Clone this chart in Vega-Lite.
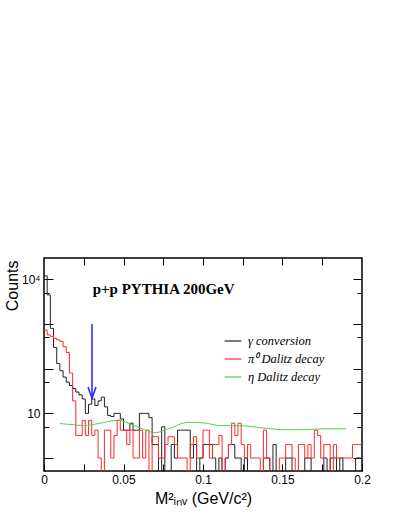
{
 "$schema": "https://vega.github.io/schema/vega-lite/v6.json",
 "width": 318, "height": 213,
 "autosize": {"type": "none"},
 "padding": {"left": 44, "top": 258, "right": 37, "bottom": 45},
 "background": "white",
 "config": {
  "view": {"stroke": "#000", "strokeWidth": 1.5},
  "font": "Liberation Sans",
  "axis": {"grid": false, "domain": false, "tickColor": "#000", "labelColor": "#000", "titleColor": "#000", "labelFont": "Liberation Sans", "titleFont": "Liberation Sans", "titleFontWeight": "normal"}
 },
 "datasets": {
  "hist": [
   {"m":0,"n":12000,"s":"γ conversion"},{"m":0.002,"n":4500,"s":"γ conversion"},{"m":0.004,"n":800,"s":"γ conversion"},{"m":0.006,"n":300,"s":"γ conversion"},{"m":0.008,"n":130,"s":"γ conversion"},{"m":0.01,"n":90,"s":"γ conversion"},{"m":0.012,"n":65,"s":"γ conversion"},{"m":0.014,"n":50,"s":"γ conversion"},{"m":0.016,"n":42,"s":"γ conversion"},{"m":0.018,"n":36,"s":"γ conversion"},
   {"m":0.02,"n":30,"s":"γ conversion"},{"m":0.022,"n":26,"s":"γ conversion"},{"m":0.024,"n":21,"s":"γ conversion"},{"m":0.026,"n":10,"s":"γ conversion"},{"m":0.028,"n":16,"s":"γ conversion"},{"m":0.03,"n":21,"s":"γ conversion"},{"m":0.032,"n":15,"s":"γ conversion"},{"m":0.034,"n":19,"s":"γ conversion"},{"m":0.036,"n":23,"s":"γ conversion"},{"m":0.038,"n":14,"s":"γ conversion"},
   {"m":0.04,"n":9,"s":"γ conversion"},{"m":0.042,"n":8.5,"s":"γ conversion"},{"m":0.044,"n":10,"s":"γ conversion"},{"m":0.046,"n":10,"s":"γ conversion"},{"m":0.048,"n":7.5,"s":"γ conversion"},{"m":0.05,"n":4.2,"s":"γ conversion"},{"m":0.052,"n":4.2,"s":"γ conversion"},{"m":0.054,"n":6,"s":"γ conversion"},{"m":0.056,"n":4.2,"s":"γ conversion"},{"m":0.058,"n":4.2,"s":"γ conversion"},
   {"m":0.06,"n":10,"s":"γ conversion"},{"m":0.062,"n":10,"s":"γ conversion"},{"m":0.064,"n":10,"s":"γ conversion"},{"m":0.066,"n":8,"s":"γ conversion"},{"m":0.068,"n":2,"s":"γ conversion"},{"m":0.07,"n":2,"s":"γ conversion"},{"m":0.072,"n":0.5,"s":"γ conversion"},{"m":0.074,"n":5,"s":"γ conversion"},{"m":0.076,"n":0.5,"s":"γ conversion"},{"m":0.078,"n":0.5,"s":"γ conversion"},
   {"m":0.08,"n":2,"s":"γ conversion"},{"m":0.082,"n":1,"s":"γ conversion"},{"m":0.084,"n":4.2,"s":"γ conversion"},{"m":0.086,"n":4.2,"s":"γ conversion"},{"m":0.088,"n":4.2,"s":"γ conversion"},{"m":0.09,"n":4.2,"s":"γ conversion"},{"m":0.092,"n":1,"s":"γ conversion"},{"m":0.094,"n":2,"s":"γ conversion"},{"m":0.096,"n":0.5,"s":"γ conversion"},{"m":0.098,"n":1,"s":"γ conversion"},
   {"m":0.1,"n":2,"s":"γ conversion"},{"m":0.102,"n":2,"s":"γ conversion"},{"m":0.104,"n":2,"s":"γ conversion"},{"m":0.106,"n":1,"s":"γ conversion"},{"m":0.108,"n":0.5,"s":"γ conversion"},{"m":0.11,"n":1,"s":"γ conversion"},{"m":0.112,"n":0.5,"s":"γ conversion"},{"m":0.114,"n":1,"s":"γ conversion"},{"m":0.116,"n":2,"s":"γ conversion"},{"m":0.118,"n":2,"s":"γ conversion"},
   {"m":0.12,"n":1,"s":"γ conversion"},{"m":0.122,"n":1,"s":"γ conversion"},{"m":0.124,"n":0.5,"s":"γ conversion"},{"m":0.126,"n":1,"s":"γ conversion"},{"m":0.128,"n":0.5,"s":"γ conversion"},{"m":0.13,"n":0.5,"s":"γ conversion"},{"m":0.132,"n":0.5,"s":"γ conversion"},{"m":0.134,"n":0.5,"s":"γ conversion"},{"m":0.136,"n":0.5,"s":"γ conversion"},{"m":0.138,"n":1,"s":"γ conversion"},
   {"m":0.14,"n":1,"s":"γ conversion"},{"m":0.142,"n":0.5,"s":"γ conversion"},{"m":0.144,"n":2,"s":"γ conversion"},{"m":0.146,"n":0.5,"s":"γ conversion"},{"m":0.148,"n":0.5,"s":"γ conversion"},{"m":0.15,"n":0.5,"s":"γ conversion"},{"m":0.152,"n":1,"s":"γ conversion"},{"m":0.154,"n":1,"s":"γ conversion"},{"m":0.156,"n":0.5,"s":"γ conversion"},{"m":0.158,"n":0.5,"s":"γ conversion"},
   {"m":0.16,"n":0.5,"s":"γ conversion"},{"m":0.162,"n":0.5,"s":"γ conversion"},{"m":0.164,"n":1,"s":"γ conversion"},{"m":0.166,"n":1,"s":"γ conversion"},{"m":0.168,"n":0.5,"s":"γ conversion"},{"m":0.17,"n":0.5,"s":"γ conversion"},{"m":0.172,"n":0.5,"s":"γ conversion"},{"m":0.174,"n":0.5,"s":"γ conversion"},{"m":0.176,"n":1,"s":"γ conversion"},{"m":0.178,"n":0.5,"s":"γ conversion"},
   {"m":0.18,"n":1,"s":"γ conversion"},{"m":0.182,"n":1,"s":"γ conversion"},{"m":0.184,"n":0.5,"s":"γ conversion"},{"m":0.186,"n":1,"s":"γ conversion"},{"m":0.188,"n":0.5,"s":"γ conversion"},{"m":0.19,"n":0.5,"s":"γ conversion"},{"m":0.192,"n":0.5,"s":"γ conversion"},{"m":0.194,"n":0.5,"s":"γ conversion"},{"m":0.196,"n":1,"s":"γ conversion"},{"m":0.198,"n":1,"s":"γ conversion"},{"m":0.2,"n":1,"s":"γ conversion"},
   {"m":0,"n":730,"s":"π⁰ Dalitz decay"},{"m":0.002,"n":570,"s":"π⁰ Dalitz decay"},{"m":0.004,"n":530,"s":"π⁰ Dalitz decay"},{"m":0.006,"n":480,"s":"π⁰ Dalitz decay"},{"m":0.008,"n":440,"s":"π⁰ Dalitz decay"},{"m":0.01,"n":410,"s":"π⁰ Dalitz decay"},{"m":0.012,"n":310,"s":"π⁰ Dalitz decay"},{"m":0.014,"n":230,"s":"π⁰ Dalitz decay"},{"m":0.016,"n":80,"s":"π⁰ Dalitz decay"},{"m":0.018,"n":19,"s":"π⁰ Dalitz decay"},
   {"m":0.02,"n":3.2,"s":"π⁰ Dalitz decay"},{"m":0.022,"n":3.2,"s":"π⁰ Dalitz decay"},{"m":0.024,"n":7,"s":"π⁰ Dalitz decay"},{"m":0.026,"n":3.2,"s":"π⁰ Dalitz decay"},{"m":0.028,"n":7,"s":"π⁰ Dalitz decay"},{"m":0.03,"n":3.2,"s":"π⁰ Dalitz decay"},{"m":0.032,"n":4.2,"s":"π⁰ Dalitz decay"},{"m":0.034,"n":1,"s":"π⁰ Dalitz decay"},{"m":0.036,"n":0.5,"s":"π⁰ Dalitz decay"},{"m":0.038,"n":4.2,"s":"π⁰ Dalitz decay"},
   {"m":0.04,"n":4.2,"s":"π⁰ Dalitz decay"},{"m":0.042,"n":1,"s":"π⁰ Dalitz decay"},{"m":0.044,"n":3.2,"s":"π⁰ Dalitz decay"},{"m":0.046,"n":7,"s":"π⁰ Dalitz decay"},{"m":0.048,"n":4.2,"s":"π⁰ Dalitz decay"},{"m":0.05,"n":4.2,"s":"π⁰ Dalitz decay"},{"m":0.052,"n":2,"s":"π⁰ Dalitz decay"},{"m":0.054,"n":4.2,"s":"π⁰ Dalitz decay"},{"m":0.056,"n":1,"s":"π⁰ Dalitz decay"},{"m":0.058,"n":1,"s":"π⁰ Dalitz decay"},
   {"m":0.06,"n":4.2,"s":"π⁰ Dalitz decay"},{"m":0.062,"n":1,"s":"π⁰ Dalitz decay"},{"m":0.064,"n":4.2,"s":"π⁰ Dalitz decay"},{"m":0.066,"n":0.5,"s":"π⁰ Dalitz decay"},{"m":0.068,"n":3,"s":"π⁰ Dalitz decay"},{"m":0.07,"n":3,"s":"π⁰ Dalitz decay"},{"m":0.072,"n":1,"s":"π⁰ Dalitz decay"},{"m":0.074,"n":1,"s":"π⁰ Dalitz decay"},{"m":0.076,"n":2,"s":"π⁰ Dalitz decay"},{"m":0.078,"n":3,"s":"π⁰ Dalitz decay"},
   {"m":0.08,"n":3,"s":"π⁰ Dalitz decay"},{"m":0.082,"n":2,"s":"π⁰ Dalitz decay"},{"m":0.084,"n":1,"s":"π⁰ Dalitz decay"},{"m":0.086,"n":1,"s":"π⁰ Dalitz decay"},{"m":0.088,"n":1,"s":"π⁰ Dalitz decay"},{"m":0.09,"n":0.5,"s":"π⁰ Dalitz decay"},{"m":0.092,"n":2,"s":"π⁰ Dalitz decay"},{"m":0.094,"n":3,"s":"π⁰ Dalitz decay"},{"m":0.096,"n":1,"s":"π⁰ Dalitz decay"},{"m":0.098,"n":1,"s":"π⁰ Dalitz decay"},
   {"m":0.1,"n":4.2,"s":"π⁰ Dalitz decay"},{"m":0.102,"n":4.2,"s":"π⁰ Dalitz decay"},{"m":0.104,"n":1,"s":"π⁰ Dalitz decay"},{"m":0.106,"n":2,"s":"π⁰ Dalitz decay"},{"m":0.108,"n":2,"s":"π⁰ Dalitz decay"},{"m":0.11,"n":3.2,"s":"π⁰ Dalitz decay"},{"m":0.112,"n":0.5,"s":"π⁰ Dalitz decay"},{"m":0.114,"n":1,"s":"π⁰ Dalitz decay"},{"m":0.116,"n":2,"s":"π⁰ Dalitz decay"},{"m":0.118,"n":6,"s":"π⁰ Dalitz decay"},
   {"m":0.12,"n":3.2,"s":"π⁰ Dalitz decay"},{"m":0.122,"n":6,"s":"π⁰ Dalitz decay"},{"m":0.124,"n":2,"s":"π⁰ Dalitz decay"},{"m":0.126,"n":1,"s":"π⁰ Dalitz decay"},{"m":0.128,"n":2,"s":"π⁰ Dalitz decay"},{"m":0.13,"n":1,"s":"π⁰ Dalitz decay"},{"m":0.132,"n":1,"s":"π⁰ Dalitz decay"},{"m":0.134,"n":1,"s":"π⁰ Dalitz decay"},{"m":0.136,"n":0.5,"s":"π⁰ Dalitz decay"},{"m":0.138,"n":4.2,"s":"π⁰ Dalitz decay"},
   {"m":0.14,"n":1,"s":"π⁰ Dalitz decay"},{"m":0.142,"n":0.5,"s":"π⁰ Dalitz decay"},{"m":0.144,"n":0.5,"s":"π⁰ Dalitz decay"},{"m":0.146,"n":0.5,"s":"π⁰ Dalitz decay"},{"m":0.148,"n":1,"s":"π⁰ Dalitz decay"},{"m":0.15,"n":1,"s":"π⁰ Dalitz decay"},{"m":0.152,"n":2,"s":"π⁰ Dalitz decay"},{"m":0.154,"n":2,"s":"π⁰ Dalitz decay"},{"m":0.156,"n":1,"s":"π⁰ Dalitz decay"},{"m":0.158,"n":0.5,"s":"π⁰ Dalitz decay"},
   {"m":0.16,"n":2,"s":"π⁰ Dalitz decay"},{"m":0.162,"n":2,"s":"π⁰ Dalitz decay"},{"m":0.164,"n":1,"s":"π⁰ Dalitz decay"},{"m":0.166,"n":2,"s":"π⁰ Dalitz decay"},{"m":0.168,"n":1,"s":"π⁰ Dalitz decay"},{"m":0.17,"n":4.2,"s":"π⁰ Dalitz decay"},{"m":0.172,"n":3.2,"s":"π⁰ Dalitz decay"},{"m":0.174,"n":1,"s":"π⁰ Dalitz decay"},{"m":0.176,"n":2,"s":"π⁰ Dalitz decay"},{"m":0.178,"n":2,"s":"π⁰ Dalitz decay"},
   {"m":0.18,"n":0.5,"s":"π⁰ Dalitz decay"},{"m":0.182,"n":2,"s":"π⁰ Dalitz decay"},{"m":0.184,"n":1,"s":"π⁰ Dalitz decay"},{"m":0.186,"n":1,"s":"π⁰ Dalitz decay"},{"m":0.188,"n":1,"s":"π⁰ Dalitz decay"},{"m":0.19,"n":1,"s":"π⁰ Dalitz decay"},{"m":0.192,"n":1,"s":"π⁰ Dalitz decay"},{"m":0.194,"n":2,"s":"π⁰ Dalitz decay"},{"m":0.196,"n":2,"s":"π⁰ Dalitz decay"},{"m":0.198,"n":2,"s":"π⁰ Dalitz decay"},{"m":0.2,"n":2,"s":"π⁰ Dalitz decay"}
  ],
  "eta": [
   {"m":0.010,"n":5.9,"s":"η Dalitz decay"},{"m":0.0176,"n":5.6,"s":"η Dalitz decay"},{"m":0.025,"n":5.3,"s":"η Dalitz decay"},{"m":0.035,"n":6.0,"s":"η Dalitz decay"},{"m":0.0465,"n":7.0,"s":"η Dalitz decay"},{"m":0.057,"n":5.3,"s":"η Dalitz decay"},{"m":0.070,"n":3.7,"s":"η Dalitz decay"},{"m":0.079,"n":4.6,"s":"η Dalitz decay"},{"m":0.0906,"n":6.3,"s":"η Dalitz decay"},{"m":0.101,"n":6.1,"s":"η Dalitz decay"},{"m":0.111,"n":5.3,"s":"η Dalitz decay"},{"m":0.123,"n":5.3,"s":"η Dalitz decay"},{"m":0.138,"n":4.7,"s":"η Dalitz decay"},{"m":0.151,"n":4.3,"s":"η Dalitz decay"},{"m":0.161,"n":4.3,"s":"η Dalitz decay"},{"m":0.176,"n":4.5,"s":"η Dalitz decay"},{"m":0.190,"n":4.5,"s":"η Dalitz decay"}
  ],
  "shaft": [{"m":0.0302,"top":1000,"bot":21.7}],
  "head": [{"m":0.0277,"n":38.7,"k":0},{"m":0.0302,"n":21.7,"k":1},{"m":0.0327,"n":38.7,"k":2}],
  "label": [{"m":0.0306,"n":4590,"t":"p+p PYTHIA 200GeV"}]
 },
 "resolve": {"axis": {"x": "independent", "y": "independent"}},
 "layer": [
  {
   "data": {"name": "hist"},
   "mark": {"type": "line", "interpolate": "step-after", "strokeWidth": 1, "clip": true},
   "encoding": {
    "x": {"field": "m", "type": "quantitative", "scale": {"domain": [0, 0.2], "nice": false, "zero": false},
     "axis": {"orient": "bottom", "values": [0,0.025,0.05,0.075,0.1,0.125,0.15,0.175,0.2], "labelExpr": "round(datum.value*1000) % 50 == 0 ? format(datum.value, '~g') : ''", "tickSize": -7, "labelFontSize": 12, "labelPadding": 10, "labelFlush": false, "title": "M²ᵢₙᵥ (GeV/c²)", "titleFontSize": 16, "titleX": 159, "titleY": 27, "titleBaseline": "middle", "titleAlign": "center"}},
    "y": {"field": "n", "type": "quantitative", "scale": {"type": "log", "domain": [0.512, 30100], "nice": false},
     "axis": {"orient": "left", "values": [1,5,10,50,100,500,1000,5000,10000], "labelExpr": "datum.value == 10 ? '10' : datum.value == 10000 ? '10⁴' : ''", "tickSize": {"condition": {"test": "indexof([1,10,100,1000,10000], datum.value) >= 0", "value": -9}, "value": -5}, "labelFontSize": 12, "labelPadding": 13, "title": "Counts", "titleFontSize": 16, "titleX": -32, "titleY": 2, "titleAngle": 270, "titleAlign": "right", "titleBaseline": "middle"}},
    "color": {"field": "s", "type": "nominal", "scale": {"domain": ["γ conversion", "π⁰ Dalitz decay", "η Dalitz decay"], "range": ["#222222", "#ff2a2a", "#4fcf4f"]},
     "legend": {"orient": "none", "legendX": 180, "legendY": 74, "title": null, "symbolType": "stroke", "symbolSize": 280, "symbolStrokeWidth": 1.2, "labelFont": "Liberation Serif", "labelFontStyle": "italic", "labelFontSize": 12.5, "labelColor": "#000", "labelOffset": 6, "rowPadding": 2}}
   }
  },
  {
   "data": {"name": "eta"},
   "mark": {"type": "line", "interpolate": "monotone", "strokeWidth": 1, "clip": true},
   "encoding": {
    "x": {"field": "m", "type": "quantitative", "scale": {"domain": [0, 0.2], "nice": false, "zero": false}, "axis": null},
    "y": {"field": "n", "type": "quantitative", "scale": {"type": "log", "domain": [0.512, 30100], "nice": false}, "axis": null},
    "color": {"field": "s", "type": "nominal"}
   }
  },
  {
   "data": {"name": "shaft"},
   "mark": {"type": "rule", "color": "#2222ff", "strokeWidth": 1.5},
   "encoding": {
    "x": {"field": "m", "type": "quantitative", "scale": {"domain": [0, 0.2], "nice": false, "zero": false},
     "axis": {"orient": "top", "values": [0.025,0.05,0.075,0.1,0.125,0.15,0.175], "labels": false, "tickSize": -7, "title": null}},
    "y": {"field": "top", "type": "quantitative", "scale": {"type": "log", "domain": [0.512, 30100], "nice": false},
     "axis": {"orient": "right", "values": [1,5,10,50,100,500,1000,5000,10000], "labels": false, "tickSize": {"condition": {"test": "indexof([1,10,100,1000,10000], datum.value) >= 0", "value": -9}, "value": -5}, "title": null}},
    "y2": {"field": "bot"}
   }
  },
  {
   "data": {"name": "head"},
   "mark": {"type": "line", "color": "#2222ff", "strokeWidth": 1.5},
   "encoding": {
    "x": {"field": "m", "type": "quantitative", "axis": null},
    "y": {"field": "n", "type": "quantitative", "axis": null},
    "order": {"field": "k"}
   }
  },
  {
   "data": {"name": "label"},
   "mark": {"type": "text", "font": "Liberation Serif", "fontWeight": "bold", "fontSize": 15, "align": "left", "baseline": "alphabetic", "color": "#000"},
   "encoding": {
    "x": {"field": "m", "type": "quantitative", "axis": null},
    "y": {"field": "n", "type": "quantitative", "axis": null},
    "text": {"field": "t"}
   }
  }
 ]
}
